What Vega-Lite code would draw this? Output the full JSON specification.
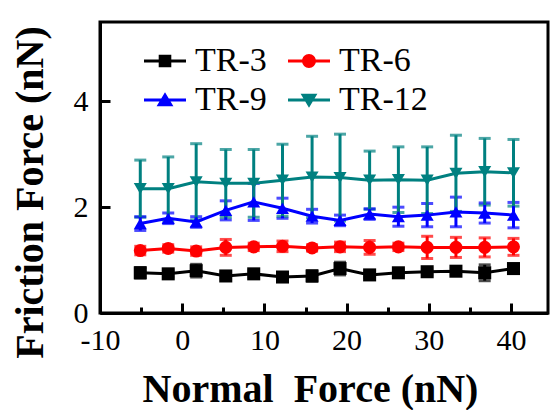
{
  "$schema": "https://vega.github.io/schema/vega-lite/v6.json",
  "width": 448,
  "height": 291,
  "autosize": "none",
  "padding": {"left": 100, "top": 22, "right": 2, "bottom": 97},
  "background": "white",
  "config": {
    "view": {"stroke": "black", "strokeWidth": 3},
    "font": "'Liberation Serif', 'Times New Roman', serif"
  },
  "data": {
    "values": [
      {"s": "TR-3", "x": -5.1, "y": 0.76, "e": 0.10},
      {"s": "TR-3", "x": -1.7, "y": 0.74, "e": 0.06},
      {"s": "TR-3", "x": 1.7, "y": 0.80, "e": 0.12},
      {"s": "TR-3", "x": 5.3, "y": 0.70, "e": 0.06},
      {"s": "TR-3", "x": 8.7, "y": 0.74, "e": 0.06},
      {"s": "TR-3", "x": 12.2, "y": 0.68, "e": 0.05},
      {"s": "TR-3", "x": 15.8, "y": 0.70, "e": 0.10},
      {"s": "TR-3", "x": 19.2, "y": 0.84, "e": 0.12},
      {"s": "TR-3", "x": 22.8, "y": 0.72, "e": 0.05},
      {"s": "TR-3", "x": 26.3, "y": 0.76, "e": 0.05},
      {"s": "TR-3", "x": 29.8, "y": 0.78, "e": 0.06},
      {"s": "TR-3", "x": 33.3, "y": 0.79, "e": 0.06},
      {"s": "TR-3", "x": 36.8, "y": 0.76, "e": 0.15},
      {"s": "TR-3", "x": 40.3, "y": 0.84, "e": 0.06},
      {"s": "TR-6", "x": -5.1, "y": 1.18, "e": 0.08},
      {"s": "TR-6", "x": -1.7, "y": 1.22, "e": 0.07},
      {"s": "TR-6", "x": 1.7, "y": 1.17, "e": 0.08},
      {"s": "TR-6", "x": 5.3, "y": 1.24, "e": 0.15},
      {"s": "TR-6", "x": 8.7, "y": 1.25, "e": 0.07},
      {"s": "TR-6", "x": 12.2, "y": 1.26, "e": 0.10},
      {"s": "TR-6", "x": 15.8, "y": 1.23, "e": 0.06},
      {"s": "TR-6", "x": 19.2, "y": 1.25, "e": 0.09},
      {"s": "TR-6", "x": 22.8, "y": 1.24, "e": 0.13},
      {"s": "TR-6", "x": 26.3, "y": 1.25, "e": 0.07},
      {"s": "TR-6", "x": 29.8, "y": 1.24, "e": 0.21},
      {"s": "TR-6", "x": 33.3, "y": 1.24, "e": 0.19},
      {"s": "TR-6", "x": 36.8, "y": 1.24, "e": 0.18},
      {"s": "TR-6", "x": 40.3, "y": 1.25, "e": 0.16},
      {"s": "TR-9", "x": -5.1, "y": 1.69, "e": 0.13},
      {"s": "TR-9", "x": -1.7, "y": 1.79, "e": 0.10},
      {"s": "TR-9", "x": 1.7, "y": 1.72, "e": 0.10},
      {"s": "TR-9", "x": 5.3, "y": 1.94, "e": 0.18},
      {"s": "TR-9", "x": 8.7, "y": 2.10, "e": 0.35},
      {"s": "TR-9", "x": 12.2, "y": 1.98, "e": 0.19},
      {"s": "TR-9", "x": 15.8, "y": 1.83, "e": 0.13},
      {"s": "TR-9", "x": 19.2, "y": 1.75, "e": 0.10},
      {"s": "TR-9", "x": 22.8, "y": 1.87, "e": 0.10},
      {"s": "TR-9", "x": 26.3, "y": 1.82, "e": 0.18},
      {"s": "TR-9", "x": 29.8, "y": 1.85, "e": 0.22},
      {"s": "TR-9", "x": 33.3, "y": 1.91, "e": 0.28},
      {"s": "TR-9", "x": 36.8, "y": 1.89, "e": 0.19},
      {"s": "TR-9", "x": 40.3, "y": 1.85, "e": 0.24},
      {"s": "TR-12", "x": -5.1, "y": 2.35, "e": 0.54},
      {"s": "TR-12", "x": -1.7, "y": 2.35, "e": 0.60},
      {"s": "TR-12", "x": 1.7, "y": 2.48, "e": 0.72},
      {"s": "TR-12", "x": 5.3, "y": 2.45, "e": 0.64},
      {"s": "TR-12", "x": 8.7, "y": 2.45, "e": 0.64},
      {"s": "TR-12", "x": 12.2, "y": 2.51, "e": 0.68},
      {"s": "TR-12", "x": 15.8, "y": 2.57, "e": 0.77},
      {"s": "TR-12", "x": 19.2, "y": 2.56, "e": 0.82},
      {"s": "TR-12", "x": 22.8, "y": 2.51, "e": 0.55},
      {"s": "TR-12", "x": 26.3, "y": 2.52, "e": 0.62},
      {"s": "TR-12", "x": 29.8, "y": 2.51, "e": 0.63},
      {"s": "TR-12", "x": 33.3, "y": 2.64, "e": 0.72},
      {"s": "TR-12", "x": 36.8, "y": 2.67, "e": 0.63},
      {"s": "TR-12", "x": 40.3, "y": 2.65, "e": 0.63}
    ]
  },
  "encoding": {
    "x": {
      "field": "x", "type": "quantitative",
      "scale": {"domain": [-10, 44.5], "nice": false, "zero": false},
      "axis": {
        "title": "Normal\u00a0 Force (nN)",
        "values": [-10, -5, 0, 5, 10, 15, 20, 25, 30, 35, 40],
        "labelExpr": "datum.value % 10 === 0 ? '' + datum.value : ''",
        "labelOverlap": false,
        "labelFlush": false,
        "labelFont": "'Liberation Serif', 'Times New Roman', serif",
        "labelFontSize": 30,
        "labelColor": "black",
        "labelPadding": 22,
        "tickSize": {"condition": {"test": "datum.value % 10 === 0", "value": -10}, "value": -6},
        "tickWidth": 3,
        "tickColor": "black",
        "domainWidth": 3,
        "domainColor": "black",
        "grid": false,
        "titleFont": "'Liberation Serif', 'Times New Roman', serif",
        "titleFontSize": 40,
        "titleFontWeight": "bold",
        "titleColor": "black",
        "titleX": 210,
        "titleY": 88,
        "titleAlign": "center",
        "titleBaseline": "alphabetic"
      }
    },
    "y": {
      "field": "y", "type": "quantitative",
      "scale": {"domain": [0, 5.5], "nice": false},
      "axis": {
        "title": "Friction Force (nN)",
        "values": [0, 2, 4],
        "labelFont": "'Liberation Serif', 'Times New Roman', serif",
        "labelFontSize": 30,
        "labelColor": "black",
        "labelPadding": 22,
        "tickSize": -10,
        "tickWidth": 3,
        "tickColor": "black",
        "domainWidth": 3,
        "domainColor": "black",
        "grid": false,
        "titleFont": "'Liberation Serif', 'Times New Roman', serif",
        "titleFontSize": 40,
        "titleFontWeight": "bold",
        "titleColor": "black",
        "titleX": -70,
        "titleY": 170,
        "titleAlign": "center",
        "titleBaseline": "middle"
      }
    }
  },
  "resolve": {"scale": {"color": "independent", "shape": "independent"}},
  "layer": [
    {
      "mark": {"type": "errorbar", "ticks": {"thickness": 3}, "size": 12, "thickness": 3},
      "encoding": {
        "yError": {"field": "e"},
        "color": {"field": "s", "type": "nominal", "legend": null,
          "scale": {"domain": ["TR-3", "TR-6", "TR-9", "TR-12"], "range": ["#000000", "#ff0000", "#0000ff", "#008080"]}}
      }
    },
    {
      "mark": {"type": "line", "strokeWidth": 3},
      "encoding": {
        "color": {"field": "s", "type": "nominal", "legend": null,
          "scale": {"domain": ["TR-3", "TR-6", "TR-9", "TR-12"], "range": ["#000000", "#ff0000", "#0000ff", "#008080"]}}
      }
    },
    {
      "mark": {"type": "point", "filled": true, "opacity": 1, "size": 170},
      "encoding": {
        "color": {"field": "s", "type": "nominal", "legend": null,
          "scale": {"domain": ["TR-3", "TR-6", "TR-9", "TR-12"], "range": ["#000000", "#ff0000", "#0000ff", "#008080"]}},
        "shape": {
          "field": "s", "type": "nominal", "legend": null,
          "scale": {"domain": ["TR-3", "TR-6", "TR-9", "TR-12"], "range": ["square", "circle", "triangle-up", "triangle-down"]}
        }
      }
    },
    {
      "transform": [{"filter": "false"}],
      "mark": {"type": "point", "filled": true, "opacity": 1},
      "encoding": {
        "color": {"field": "s", "type": "nominal",
          "scale": {"domain": ["TR-3", "TR-6", "TR-9", "TR-12"], "range": ["#000000", "#ff0000", "#0000ff", "#008080"]},
          "legend": {
            "title": null, "orient": "none", "direction": "horizontal",
            "legendX": 43, "legendY": 17, "columns": 2, "padding": 0,
            "columnPadding": 18, "rowPadding": 0, "symbolSize": 1764,
            "symbolOpacity": 1,
            "labelFont": "'Liberation Serif', 'Times New Roman', serif", "labelFontSize": 34, "labelColor": "black",
            "labelOffset": 8, "labelLimit": 200
          }
        },
        "shape": {
          "field": "s", "type": "nominal",
          "scale": {"domain": ["TR-3", "TR-6", "TR-9", "TR-12"], "range": [
            "M-1,-0.07H1V0.07H-1ZM-0.3,-0.3H0.3V0.3H-0.3Z",
            "M-1,-0.07H1V0.07H-1ZM0.33,0A0.33,0.33,0,1,1,-0.33,0A0.33,0.33,0,1,1,0.33,0Z",
            "M-1,-0.07H1V0.07H-1ZM0,-0.37L0.4,0.3H-0.4Z",
            "M-1,-0.07H1V0.07H-1ZM0,0.37L-0.4,-0.3H0.4Z"
          ]},
          "legend": {
            "title": null, "orient": "none", "direction": "horizontal",
            "legendX": 43, "legendY": 17, "columns": 2, "padding": 0,
            "columnPadding": 18, "rowPadding": 0, "symbolSize": 1764,
            "symbolOpacity": 1,
            "labelFont": "'Liberation Serif', 'Times New Roman', serif", "labelFontSize": 34, "labelColor": "black",
            "labelOffset": 8, "labelLimit": 200
          }
        }
      }
    }
  ]
}
